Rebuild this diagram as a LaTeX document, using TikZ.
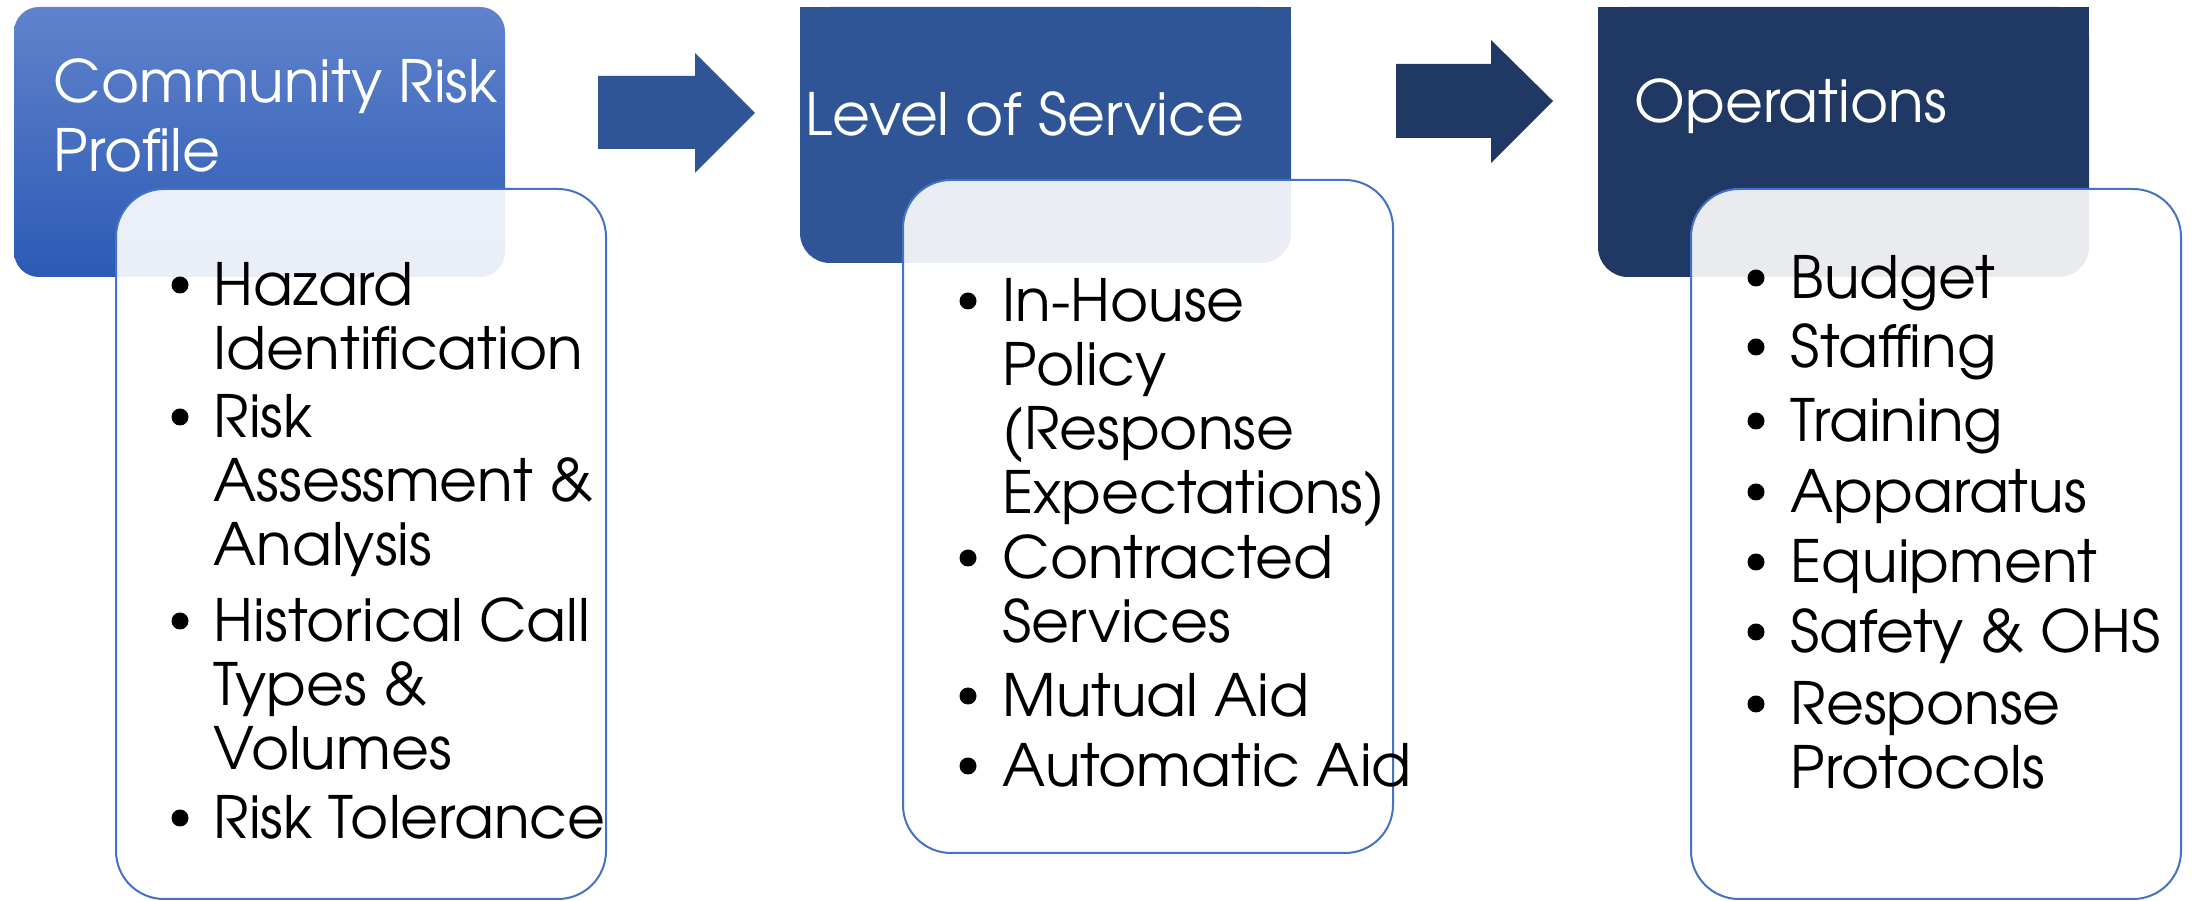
\documentclass[tikz,border=0pt]{standalone}
\usepackage{fontspec}
\setmainfont{TeX Gyre Adventor}
\definecolor{hdrTop}{RGB}{96,131,204}
\definecolor{hdrBot}{RGB}{44,90,180}
\definecolor{hdrB}{RGB}{47,85,151}
\definecolor{hdrC}{RGB}{32,56,100}
\definecolor{panelborder}{RGB}{68,114,196}
\newcommand\mylines[1]{\vtop{\halign{##\hfil\cr#1\crcr}}}
\begin{document}
\begin{tikzpicture}[x=0.3pt,y=-0.3pt,
  hdrtext/.style={text=white, anchor=base west, inner sep=0pt, font=\fontsize{17.5}{20.7}\selectfont},
  itemtext/.style={text=black, anchor=base west, inner sep=0pt, font=\fontsize{17.5}{19.2}\selectfont},
  dot/.style={circle, fill=black, inner sep=0pt, minimum size=5.1pt},
  panel/.style={draw=panelborder, line width=0.6pt, fill=white, fill opacity=0.9, rounded corners=14.4pt}
]
\useasboundingbox (0,0) rectangle (2193,901);
\fill[white] (0,0) rectangle (2193,901);

% header boxes
\shade[top color=hdrTop, bottom color=hdrBot, rounded corners=7.5pt] (14,7) rectangle (505,277);
\fill[hdrB, rounded corners=9pt] (800,7) rectangle (1291,263);
\fill[hdrB] (800,7) rectangle (1291,135);
\fill[hdrC, rounded corners=9pt] (1598,7) rectangle (2089,277);
\fill[hdrC] (1598,7) rectangle (2089,140);

% block arrows
\fill[hdrB] (598,76) -- (695,76) -- (695,53) -- (755,113) -- (695,173) -- (695,149) -- (598,149) -- cycle;
\fill[hdrC] (1396,64) -- (1491,64) -- (1491,40) -- (1553,101) -- (1491,163) -- (1491,138) -- (1396,138) -- cycle;

% header texts
\node[hdrtext] (h1) at (53,103) {\mylines{Community Risk\cr Profile}};
\node[hdrtext] (h2) at (805,136) {Level of Service};
\node[hdrtext] (h3) at (1634,123) {Operations};

% panels
\path[panel] (116,189) rectangle (606,899);
\path[panel] (903,180) rectangle (1393,853);
\path[panel] (1691,189) rectangle (2181,899);

% panel 1 items
\node[dot] (d1a) at (180,285) {};
\node[itemtext] (t1a) at (213,306) {\mylines{Hazard\cr Identification}};
\node[dot] (d1b) at (180,417) {};
\node[itemtext] (t1b) at (213,438) {\mylines{Risk\cr Assessment \&\cr Analysis}};
\node[dot] (d1c) at (180,621) {};
\node[itemtext] (t1c) at (213,642) {\mylines{Historical Call\cr Types \&\cr Volumes}};
\node[dot] (d1d) at (180,818) {};
\node[itemtext] (t1d) at (213,839) {Risk Tolerance};

% panel 2 items
\node[dot] (d2a) at (968,301) {};
\node[itemtext] (t2a) at (1002,322) {\mylines{In-House\cr Policy\cr (Response\cr Expectations)}};
\node[dot] (d2b) at (968,558) {};
\node[itemtext] (t2b) at (1002,579) {\mylines{Contracted\cr Services}};
\node[dot] (d2c) at (968,696) {};
\node[itemtext] (t2c) at (1002,717) {Mutual Aid};
\node[dot] (d2d) at (968,766) {};
\node[itemtext] (t2d) at (1002,787) {Automatic Aid};

% panel 3 items
\node[dot] (d3a) at (1756,278) {};
\node[itemtext] (t3a) at (1790,299) {Budget};
\node[dot] (d3b) at (1756,347) {};
\node[itemtext] (t3b) at (1790,368) {Staffing};
\node[dot] (d3c) at (1756,421) {};
\node[itemtext] (t3c) at (1790,442) {Training};
\node[dot] (d3d) at (1756,492) {};
\node[itemtext] (t3d) at (1790,513) {Apparatus};
\node[dot] (d3e) at (1756,562) {};
\node[itemtext] (t3e) at (1790,583) {Equipment};
\node[dot] (d3f) at (1756,632) {};
\node[itemtext] (t3f) at (1790,653) {Safety \& OHS};
\node[dot] (d3g) at (1756,704) {};
\node[itemtext] (t3g) at (1790,725) {\mylines{Response\cr Protocols}};
\end{tikzpicture}
\end{document}
